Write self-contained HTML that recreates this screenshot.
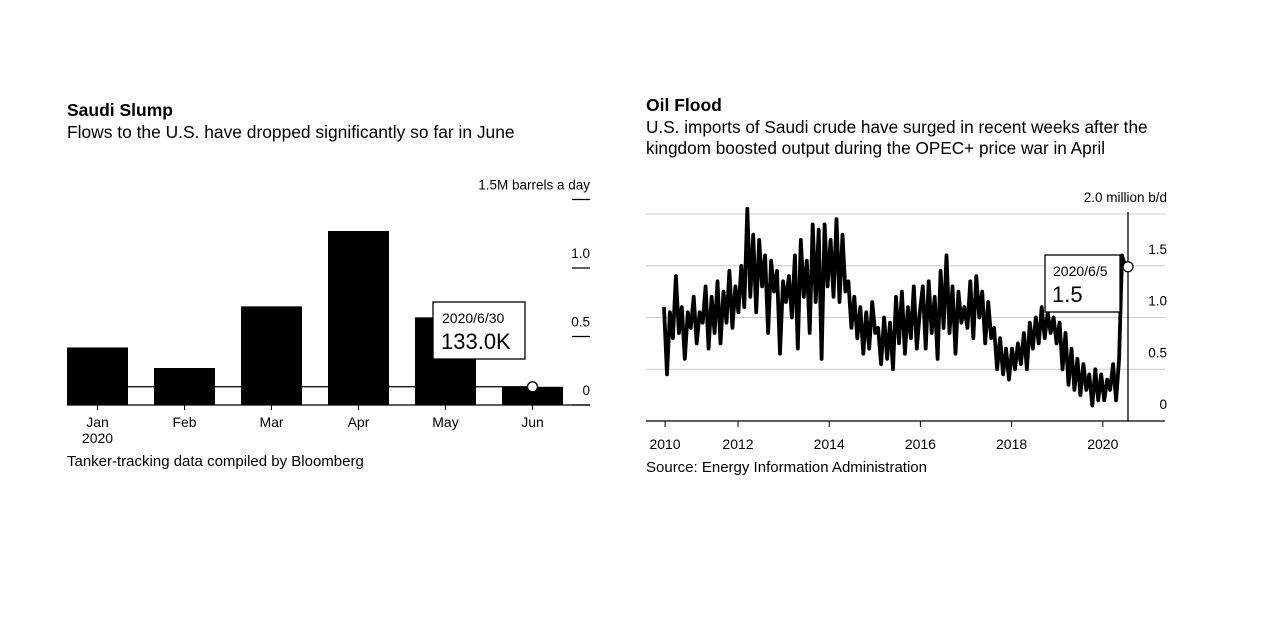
<!DOCTYPE html>
<html><head><meta charset="utf-8"><style>
body{margin:0;background:#fff;width:1280px;height:631px;overflow:hidden;font-family:"Liberation Sans",Arial,sans-serif;}
svg text{font-family:"Liberation Sans",Arial,sans-serif;fill:#000}
</style></head><body>
<svg id="c" width="1280" height="631">
<g>
<text x="67" y="116" font-size="17.5" font-weight="bold">Saudi Slump</text>
<text x="67" y="138" font-size="17.4" fill="#111">Flows to the U.S. have dropped significantly so far in June</text>
<text x="67" y="466" font-size="15" fill="#222">Tanker-tracking data compiled by Bloomberg</text>
<g id="lg"></g>
</g>
<g>
<text x="646" y="111" font-size="17.5" font-weight="bold">Oil Flood</text>
<text x="646" y="133" font-size="17.2" fill="#111">U.S. imports of Saudi crude have surged in recent weeks after the</text>
<text x="646" y="154" font-size="17.2" fill="#111">kingdom boosted output during the OPEC+ price war in April</text>
<text x="646" y="472" font-size="15" fill="#222">Source: Energy Information Administration</text>
<g id="rg"></g>
</g>
</svg>
<script>
const months=["Jan","Feb","Mar","Apr","May","Jun"];
const flows=[0.42,0.27,0.72,1.27,0.64,0.133];
const leftTicks=[0,0.5,1.0,1.5];
const leftTickLabels=["0","0.5","1.0","1.5M barrels a day"];
const years=[2010,2012,2014,2016,2018,2020];
const yearPos=[2010.4,2012,2014,2016,2018,2020];
const imports=[1.1,0.45,1.05,0.8,1.4,0.85,1.1,0.6,1.05,0.9,1.2,0.75,1.05,0.95,
1.3,0.7,1.2,0.85,1.35,0.75,1.25,0.95,1.45,0.9,1.3,1.05,1.5,
1.1,2.05,1.2,1.8,1.05,1.75,1.3,1.6,0.85,1.55,1.25,1.45,0.65,1.35,1.15,
1.4,1.0,1.6,0.7,1.75,1.2,1.55,0.85,1.9,1.15,1.85,0.6,1.9,1.3,1.75,
1.2,1.95,1.15,1.8,1.25,1.35,0.9,1.2,0.8,1.1,0.65,1.05,0.7,1.15,0.85,
0.9,0.55,1.0,0.6,0.95,0.5,1.2,0.75,1.25,0.65,1.1,0.8,1.3,0.7,1.05,
1.3,0.7,1.35,0.85,1.2,0.6,1.45,0.9,1.6,0.85,1.3,0.65,1.25,0.95,1.1,
0.9,1.35,0.8,1.4,1.0,1.25,0.75,1.15,0.8,0.9,0.5,0.8,0.45,0.7,0.4,
0.7,0.5,0.75,0.55,0.85,0.5,0.95,0.7,1.0,0.75,1.1,0.8,1.05,0.85,1.0,
0.75,0.95,0.5,0.85,0.35,0.7,0.3,0.6,0.25,0.55,0.3,0.45,0.15,0.5,0.2,
0.45,0.2,0.4,0.3,0.55,0.2,0.6,1.6,1.5];
const rightTicks=[0,0.5,1.0,1.5,2.0];
const rightTickLabels=["0","0.5","1.0","1.5","2.0 million b/d"];
const NS="http://www.w3.org/2000/svg";
function mk(p,t,a){const e=document.createElementNS(NS,t);for(const k in a)e.setAttribute(k,a[k]);p.appendChild(e);return e;}
// left
const lg=document.getElementById('lg');
const ly=v=>405-v*137;
const lx=i=>67+i*87;
leftTicks.forEach((t,i)=>{
 const l=mk(lg,'line',{x1:572,x2:590,y1:ly(t),y2:ly(t),stroke:'#000','stroke-width':1.3});
 
 
 const tx=mk(lg,'text',{x:590,y:ly(t)-10,'font-size':13.5,'text-anchor':'end'});tx.textContent=leftTickLabels[i];
 
 
});
flows.forEach((v,i)=>{
 const r=mk(lg,'rect',{x:lx(i),y:ly(v),width:61,height:405-ly(v),fill:'#000'});
 
 
 const t=mk(lg,'text',{x:lx(i)+30.5,y:427,'font-size':14,'text-anchor':'middle'});t.textContent=months[i];
 
 
 mk(lg,'line',{x1:lx(i)+30.5,x2:lx(i)+30.5,y1:405,y2:410,stroke:'#000'});
});
const y20=mk(lg,'text',{x:97.5,y:443,'font-size':14,'text-anchor':'middle'});y20.textContent="2020";


const last=flows.length-1;
mk(lg,'line',{x1:lx(0),x2:lx(last)+30.5,y1:ly(flows[last]),y2:ly(flows[last]),stroke:'#000','stroke-width':1.2});
mk(lg,'line',{x1:67,x2:590,y1:405,y2:405,stroke:'#000','stroke-width':1.3});
const lb=mk(lg,'rect',{x:433,y:302,width:92,height:57,fill:'#fff',stroke:'#000','stroke-width':1.3});


let a=mk(lg,'text',{x:442,y:323,'font-size':14});a.textContent="2020/6/30";
a=mk(lg,'text',{x:441,y:349,'font-size':22});a.textContent="133.0K";
const lc=mk(lg,'circle',{cx:lx(last)+30.5,cy:ly(flows[last]),r:5,fill:'#fff',stroke:'#000','stroke-width':1.3});


// right
const rg=document.getElementById('rg');
const ry=v=>421-v*103.5;
const yx=y=>738+(y-2012)*45.6;
rightTicks.forEach((t,i)=>{
 if(t>0){const g=mk(rg,'line',{x1:646,x2:1165,y1:ry(t),y2:ry(t),stroke:'#ccc','stroke-width':1});
 
 }
 const tx=mk(rg,'text',{x:1167,y:ry(t)-12,'font-size':13.5,'text-anchor':'end'});tx.textContent=rightTickLabels[i];
 
 
});
mk(rg,'line',{x1:646,x2:1165,y1:421,y2:421,stroke:'#000','stroke-width':1.3});
years.forEach((y,i)=>{
 const x=yx(yearPos[i]);
 mk(rg,'line',{x1:x,x2:x,y1:421,y2:427,stroke:'#000'});
 const t=mk(rg,'text',{x:x,y:449,'font-size':14,'text-anchor':'middle'});t.textContent=y;
 
 
});
const x0=664,x1=1125,n=imports.length;
const ix=i=>x0+(x1-x0)*i/(n-1);
const pts=imports.map((v,i)=>ix(i).toFixed(1)+','+ry(v).toFixed(1)).join(' ');
const pl=mk(rg,'polyline',{points:pts,fill:'none',stroke:'#000','stroke-width':3.8,'stroke-linejoin':'round'});


mk(rg,'line',{x1:1128,x2:1128,y1:212,y2:421,stroke:'#000','stroke-width':1.3});
const rb=mk(rg,'rect',{x:1045,y:255,width:75,height:57,fill:'#fff',stroke:'#000','stroke-width':1.3});


a=mk(rg,'text',{x:1053,y:276,'font-size':14});a.textContent="2020/6/5";
a=mk(rg,'text',{x:1052,y:302,'font-size':22});a.textContent="1.5";
const rc=mk(rg,'circle',{cx:1128,cy:ry(imports[n-1])+1,r:5,fill:'#fff',stroke:'#000','stroke-width':1.3});


</script>
</body></html>
